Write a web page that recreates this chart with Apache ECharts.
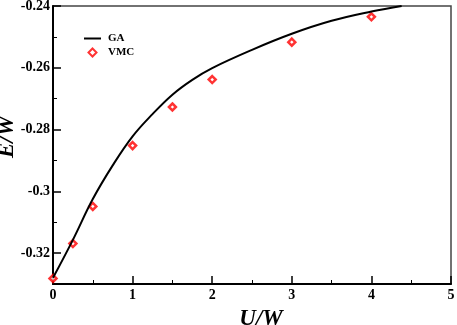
<!DOCTYPE html>
<html>
<head>
<meta charset="utf-8">
<script src="https://cdn.jsdelivr.net/npm/echarts@6/dist/echarts.min.js"></script>
<style>
  html, body { margin: 0; padding: 0; background: #fff; }
  #chart { width: 457px; height: 325px; }
</style>
</head>
<body>
<div id="chart"></div>
<script>
// GA curve (U/W, E/W)
const gaU = [0, 0.25, 0.5, 0.75, 1, 1.25, 1.5, 1.75, 2, 2.5, 3, 3.5, 4, 4.38]
const gaE = [-0.328, -0.3157, -0.3025, -0.2916, -0.2822, -0.2750, -0.2687, -0.2639, -0.2601, -0.2542, -0.2490, -0.2448, -0.2418, -0.2400]

// VMC points
const vmcU = [0, 0.25, 0.5, 1, 1.5, 2, 3, 4]
const vmcE = [-0.3282, -0.3169, -0.3049, -0.2852, -0.2727, -0.2638, -0.2517, -0.2435]

const yMajor = [-0.32, -0.3, -0.28, -0.26, -0.24]
const yMinor = [-0.33, -0.31, -0.29, -0.27, -0.25]

const serif = "Liberation Serif"

const chart = echarts.init(document.getElementById("chart"))

const tickLabel = {
    fontFamily: serif,
    fontWeight: "bold",
    fontSize: 14,
    color: "#000",
}

chart.setOption({
    animation: false,
    grid: {
        left: 53,
        right: 6,
        top: 6,
        bottom: 41,
        outerBoundsMode: "none",
        show: true,
        borderColor: "#444",
        borderWidth: 1.5,
    },
    legend: {
        orient: "vertical",
        left: 79,
        top: 28,
        itemWidth: 17,
        itemHeight: 8,
        itemGap: 3,
        symbolKeepAspect: true,
        textStyle: {
            fontFamily: serif,
            fontWeight: "bold",
            fontSize: 11,
            color: "#000",
            padding: [0, 0, 0, 2],
        },
        data: [
            { name: "GA", icon: "path://M0,0H17V2H0Z" },
            { name: "VMC", icon: "path://M4,0L8,4L4,8L0,4Z" },
        ],
    },
    xAxis: {
        type: "value",
        min: 0,
        max: 5,
        interval: 1,
        name: "U/W",
        nameLocation: "middle",
        nameGap: 24,
        nameTextStyle: {
            fontFamily: serif,
            fontStyle: "italic",
            fontWeight: "bold",
            fontSize: 23,
            color: "#000",
            padding: [0, 0, 0, 18],
        },
        axisLine: { lineStyle: { color: "#000", width: 2 } },
        axisTick: { inside: true, length: 8, lineStyle: { color: "#000", width: 1.5 } },
        minorTick: { show: true, splitNumber: 2, length: 4, lineStyle: { color: "#000", width: 1 } },
        axisLabel: { ...tickLabel, margin: 4 },
        splitLine: { show: false },
    },
    yAxis: [
        {
            type: "value",
            min: -0.33,
            max: -0.24,
            name: "E/W",
            nameLocation: "middle",
            nameGap: 34,
            nameMoveOverlap: false,
            nameRotate: 90,
            nameTextStyle: {
                fontFamily: serif,
                fontStyle: "italic",
                fontWeight: "bold",
                fontSize: 23,
                color: "#000",
                padding: [0, 0, 0, 16],
            },
            axisLine: { lineStyle: { color: "#000", width: 2 } },
            axisTick: {
                inside: true,
                length: 8,
                customValues: yMajor,
                lineStyle: { color: "#000", width: 1.5 },
            },
            axisLabel: {
                ...tickLabel,
                margin: 3,
                customValues: yMajor,
                formatter: v => String(+Number(v).toFixed(2)),
            },
            splitLine: { show: false },
        },
        {
            type: "value",
            position: "left",
            min: -0.33,
            max: -0.24,
            axisLine: { show: false },
            axisTick: {
                inside: true,
                length: 4,
                customValues: yMinor,
                lineStyle: { color: "#000", width: 1 },
            },
            axisLabel: { show: false },
            splitLine: { show: false },
        },
    ],
    series: [
        {
            name: "GA",
            type: "line",
            smooth: 0.4,
            symbol: "none",
            clip: true,
            data: gaU.map((u, i) => [u, gaE[i]]),
            lineStyle: { color: "#000", width: 2 },
            itemStyle: { color: "#000" },
        },
        {
            name: "VMC",
            type: "scatter",
            symbol: "diamond",
            symbolSize: 7,
            data: vmcU.map((u, i) => [u, vmcE[i]]),
            itemStyle: { color: "#fff", borderColor: "#ff0000", borderWidth: 2.5 },
        },
    ],
})
</script>
</body>
</html>
